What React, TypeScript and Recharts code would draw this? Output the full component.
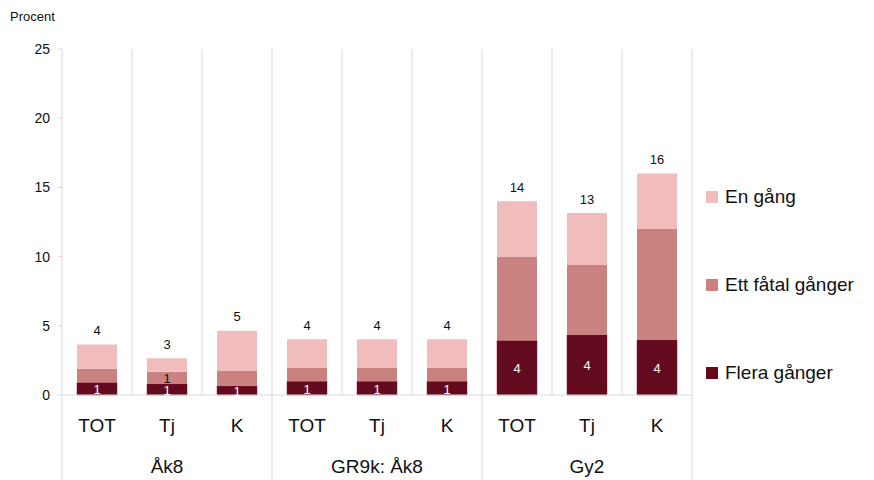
import { Bar, BarChart, CartesianGrid, LabelList, XAxis, YAxis } from "recharts";

const groups = ["Åk8", "GR9k: Åk8", "Gy2"];
const subLabels = ["TOT", "Tj", "K", "TOT", "Tj", "K", "TOT", "Tj", "K"];
const groupOf = [0, 0, 0, 1, 1, 1, 2, 2, 2];

const fleraGanger = [0.9, 0.8, 0.65, 1.0, 1.0, 1.0, 3.93, 4.34, 3.97];
const ettFatal = [1.0, 0.88, 1.08, 0.97, 0.97, 0.97, 6.07, 5.06, 8.03];
const enGang = [1.75, 0.97, 2.92, 2.05, 2.05, 2.05, 4.0, 3.75, 4.0];

const totalLabels = ["4", "3", "5", "4", "4", "4", "14", "13", "16"];
const fleraLabels = ["1", "1", "1", "1", "1", "1", "4", "4", "4"];
const fatalLabels = ["", "1", "", "", "", "", "", "", ""];

const legendItems = ["En gång", "Ett fåtal gånger", "Flera gånger"];

const yTicks = [0, 5, 10, 15, 20, 25];

const COLORS = { en: "#F0BCBC", fatal: "#C98280", flera: "#640A1E" };
const legendColors = [COLORS.en, COLORS.fatal, COLORS.flera];
const GRID = "#d9d9d9";
const FONT = "'Liberation Sans', Arial, sans-serif";

const data = subLabels.map((sub, i) => ({
  key: `${i}`,
  sub,
  group: groups[groupOf[i]],
  flera: fleraGanger[i],
  fatal: ettFatal[i],
  en: enGang[i],
}));

const W = 874;
const H = 480;
const margin = { top: 49, right: 182, bottom: 0, left: 22 };
const yAxisWidth = 40;
const xAxisHeight = 85;

// two-level category axis: sub label, group label under the middle item, group separators
const CategoryTick = (props: any) => {
  const { x, y, index, bandWidth } = props;
  const i = index;
  const g = groupOf[i];
  const first = i === 0 || groupOf[i - 1] !== g;
  const last = i === data.length - 1;
  const middle = groupOf[i - 1] === g && groupOf[i + 1] === g;
  return (
    <g>
      <text x={x} y={y + 37} textAnchor="middle" fontSize={19} fill="#111" fontFamily={FONT}>
        {subLabels[i]}
      </text>
      {middle && (
        <text x={x} y={y + 78} textAnchor="middle" fontSize={19} fill="#111" fontFamily={FONT}>
          {groups[g]}
        </text>
      )}
      {first && <line x1={x - bandWidth / 2} x2={x - bandWidth / 2} y1={y} y2={y + xAxisHeight} stroke={GRID} />}
      {last && <line x1={x + bandWidth / 2} x2={x + bandWidth / 2} y1={y} y2={y + xAxisHeight} stroke={GRID} />}
    </g>
  );
};

const LegendBox = () => (
  <div style={{ position: "absolute", left: 706, top: 153, fontFamily: FONT }}>
    {legendItems.map((label, i) => (
      <div key={label} style={{ display: "flex", alignItems: "center", height: 88 }}>
        <span style={{ width: 12, height: 12, background: legendColors[i], marginRight: 7, display: "inline-block" }} />
        <span style={{ fontSize: 19, color: "#111" }}>{label}</span>
      </div>
    ))}
  </div>
);

const textLabel = (labels: string[], fill: string, dy = 0) => (props: any) => {
  const { x, y, width, height, index } = props;
  const t = labels[index];
  if (!t) return null;
  return (
    <text x={x + width / 2} y={y + height / 2 + dy} textAnchor="middle" dominantBaseline="central" fontSize={13} fill={fill} fontFamily={FONT}>
      {t}
    </text>
  );
};

const totalLabel = (props: any) => {
  const { x, y, width, index } = props;
  return (
    <text x={x + width / 2} y={y - 14} textAnchor="middle" dominantBaseline="central" fontSize={13} fill="#111" fontFamily={FONT}>
      {totalLabels[index]}
    </text>
  );
};

export default function App() {
  const plotWidth = W - margin.left - margin.right - yAxisWidth;
  const bandWidth = plotWidth / data.length;
  return (
    <div style={{ position: "absolute", left: 0, top: 0, width: W, height: H, background: "#fff" }}>
      <div style={{ position: "absolute", left: 10, top: 9, fontSize: 13, fontFamily: FONT, color: "#111" }}>Procent</div>
      <BarChart width={W} height={H} data={data} margin={margin} barSize={40}>
        <CartesianGrid
          horizontal={false}
          stroke={GRID}
          verticalCoordinatesGenerator={({ offset }: any) =>
            data.map((_, i) => offset.left + ((i + 1) * offset.width) / data.length)
          }
        />
        <XAxis
          dataKey="key"
          height={xAxisHeight}
          tickLine={false}
          tickSize={0}
          tickMargin={0}
          axisLine={{ stroke: GRID }}
          interval={0}
          tick={<CategoryTick bandWidth={bandWidth} />}
        />
        <YAxis
          width={yAxisWidth}
          domain={[0, 25]}
          ticks={yTicks}
          interval={0}
          tickSize={4}
          tickMargin={8}
          tickLine={{ stroke: GRID }}
          axisLine={{ stroke: GRID }}
          tick={{ fontSize: 14, fill: "#111", fontFamily: FONT }}
        />
        <Bar dataKey="flera" stackId="a" fill={COLORS.flera} stroke="#8a1a2e" strokeWidth={0.5} isAnimationActive={false}>
          <LabelList dataKey="flera" content={textLabel(fleraLabels, "#fff", 1)} />
        </Bar>
        <Bar dataKey="fatal" stackId="a" fill={COLORS.fatal} isAnimationActive={false}>
          <LabelList dataKey="fatal" content={textLabel(fatalLabels, "#111", 1)} />
        </Bar>
        <Bar dataKey="en" stackId="a" fill={COLORS.en} isAnimationActive={false}>
          <LabelList dataKey="en" content={totalLabel} />
        </Bar>
      </BarChart>
      <LegendBox />
    </div>
  );
}
